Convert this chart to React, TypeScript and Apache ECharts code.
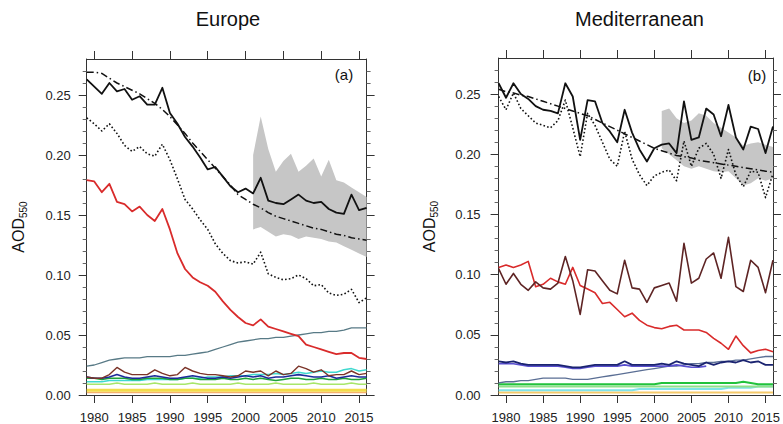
import React, { useEffect, useRef } from "react";
import * as echarts from "echarts";

const FONT = '"Liberation Sans", Arial, Helvetica, sans-serif';

const years = [1979, 1980, 1981, 1982, 1983, 1984, 1985, 1986, 1987, 1988, 1989, 1990, 1991, 1992, 1993, 1994, 1995, 1996, 1997, 1998, 1999, 2000, 2001, 2002, 2003, 2004, 2005, 2006, 2007, 2008, 2009, 2010, 2011, 2012, 2013, 2014, 2015, 2016];
const bandYears = [2001, 2002, 2003, 2004, 2005, 2006, 2007, 2008, 2009, 2010, 2011, 2012, 2013, 2014, 2015, 2016];
const blueYears = [1979, 1980, 1981, 1982, 1983, 1984, 1985, 1986, 1987, 1988, 1989, 1990, 1991, 1992, 1993, 1994, 1995, 1996, 1997, 1998, 1999, 2000, 2001, 2002, 2003, 2004, 2005, 2006, 2007];

const xTicks = [1980, 1985, 1990, 1995, 2000, 2005, 2010, 2015];
const yTicks = [0, 0.05, 0.1, 0.15, 0.2, 0.25];
const yMinorTicks = [0.01, 0.02, 0.03, 0.04, 0.06, 0.07, 0.08, 0.09, 0.11, 0.12, 0.13, 0.14, 0.16, 0.17, 0.18, 0.19, 0.21, 0.22, 0.23, 0.24, 0.26, 0.27];

// ---------- Europe ----------
const eurTotal = [0.263, 0.257, 0.251, 0.260, 0.253, 0.255, 0.246, 0.249, 0.242, 0.242, 0.256, 0.235, 0.226, 0.215, 0.207, 0.198, 0.188, 0.190, 0.182, 0.174, 0.169, 0.172, 0.168, 0.181, 0.162, 0.160, 0.159, 0.163, 0.167, 0.162, 0.160, 0.161, 0.155, 0.152, 0.151, 0.167, 0.154, 0.156];
const eurSmooth = [0.269, 0.269, 0.268, 0.264, 0.260, 0.257, 0.254, 0.251, 0.247, 0.243, 0.238, 0.232, 0.225, 0.218, 0.210, 0.203, 0.196, 0.189, 0.182, 0.175, 0.167, 0.163, 0.159, 0.156, 0.152, 0.149, 0.147, 0.145, 0.143, 0.141, 0.139, 0.138, 0.136, 0.134, 0.133, 0.131, 0.130, 0.129];
const eurDotted = [0.231, 0.226, 0.220, 0.226, 0.218, 0.208, 0.203, 0.207, 0.201, 0.199, 0.209, 0.196, 0.180, 0.163, 0.155, 0.146, 0.138, 0.126, 0.118, 0.112, 0.110, 0.111, 0.109, 0.119, 0.101, 0.098, 0.096, 0.097, 0.100, 0.097, 0.091, 0.092, 0.085, 0.083, 0.084, 0.088, 0.077, 0.081];
const eurRed = [0.179, 0.178, 0.169, 0.176, 0.161, 0.159, 0.153, 0.157, 0.150, 0.145, 0.155, 0.138, 0.118, 0.105, 0.098, 0.094, 0.091, 0.086, 0.078, 0.071, 0.065, 0.060, 0.058, 0.063, 0.057, 0.055, 0.053, 0.051, 0.049, 0.042, 0.040, 0.038, 0.036, 0.034, 0.035, 0.035, 0.031, 0.030];
const eurGrayBlue = [0.024, 0.025, 0.027, 0.029, 0.030, 0.031, 0.031, 0.031, 0.032, 0.032, 0.032, 0.032, 0.033, 0.033, 0.034, 0.035, 0.036, 0.038, 0.040, 0.042, 0.044, 0.045, 0.046, 0.047, 0.047, 0.048, 0.048, 0.049, 0.050, 0.051, 0.052, 0.052, 0.053, 0.053, 0.054, 0.056, 0.056, 0.056];
const eurBrown = [0.015, 0.014, 0.014, 0.017, 0.023, 0.019, 0.017, 0.017, 0.017, 0.021, 0.018, 0.016, 0.017, 0.023, 0.020, 0.018, 0.017, 0.017, 0.016, 0.015, 0.016, 0.020, 0.019, 0.020, 0.016, 0.020, 0.017, 0.018, 0.024, 0.022, 0.019, 0.021, 0.016, 0.017, 0.017, 0.020, 0.017, 0.018];
const eurNavy = [0.015, 0.014, 0.014, 0.015, 0.017, 0.015, 0.014, 0.014, 0.015, 0.016, 0.015, 0.014, 0.014, 0.015, 0.016, 0.015, 0.014, 0.014, 0.015, 0.014, 0.015, 0.016, 0.015, 0.016, 0.014, 0.015, 0.015, 0.016, 0.017, 0.016, 0.015, 0.015, 0.016, 0.014, 0.015, 0.016, 0.015, 0.015];
const eurGreen = [0.014, 0.014, 0.013, 0.014, 0.014, 0.014, 0.013, 0.013, 0.014, 0.014, 0.014, 0.013, 0.013, 0.014, 0.014, 0.013, 0.013, 0.013, 0.014, 0.013, 0.013, 0.014, 0.013, 0.014, 0.013, 0.012, 0.013, 0.014, 0.014, 0.013, 0.013, 0.014, 0.013, 0.013, 0.014, 0.013, 0.013, 0.014];
const eurCyan = [0.011, 0.011, 0.011, 0.012, 0.012, 0.012, 0.012, 0.012, 0.013, 0.013, 0.013, 0.013, 0.013, 0.014, 0.014, 0.014, 0.015, 0.015, 0.015, 0.016, 0.016, 0.016, 0.017, 0.017, 0.017, 0.018, 0.017, 0.018, 0.019, 0.018, 0.019, 0.020, 0.019, 0.019, 0.021, 0.022, 0.020, 0.021];
const eurLime = [0.009, 0.009, 0.009, 0.009, 0.010, 0.009, 0.009, 0.009, 0.009, 0.010, 0.009, 0.009, 0.009, 0.009, 0.010, 0.009, 0.009, 0.009, 0.009, 0.009, 0.010, 0.009, 0.009, 0.009, 0.009, 0.010, 0.009, 0.009, 0.009, 0.009, 0.010, 0.009, 0.009, 0.009, 0.009, 0.010, 0.009, 0.009];
const eurYellow = [0.004, 0.004, 0.004, 0.004, 0.004, 0.004, 0.004, 0.004, 0.004, 0.004, 0.004, 0.004, 0.004, 0.004, 0.004, 0.004, 0.004, 0.004, 0.004, 0.004, 0.004, 0.004, 0.004, 0.004, 0.004, 0.004, 0.004, 0.004, 0.004, 0.004, 0.004, 0.004, 0.004, 0.004, 0.004, 0.004, 0.004, 0.004];
const eurOrange = [0.002, 0.002, 0.002, 0.002, 0.002, 0.002, 0.002, 0.002, 0.002, 0.002, 0.002, 0.002, 0.002, 0.002, 0.002, 0.002, 0.002, 0.002, 0.002, 0.002, 0.002, 0.002, 0.002, 0.002, 0.002, 0.002, 0.002, 0.002, 0.002, 0.002, 0.002, 0.002, 0.002, 0.002, 0.002, 0.002, 0.002, 0.002];
const eurBandHigh = [0.200, 0.232, 0.205, 0.186, 0.195, 0.201, 0.186, 0.191, 0.197, 0.182, 0.196, 0.179, 0.177, 0.173, 0.169, 0.165];
const eurBandLow = [0.138, 0.140, 0.136, 0.132, 0.134, 0.133, 0.130, 0.132, 0.131, 0.130, 0.128, 0.127, 0.124, 0.121, 0.118, 0.115];

// ---------- Mediterranean ----------
const medTotal = [0.259, 0.247, 0.259, 0.250, 0.246, 0.240, 0.237, 0.236, 0.234, 0.259, 0.248, 0.212, 0.245, 0.244, 0.226, 0.219, 0.210, 0.237, 0.218, 0.204, 0.194, 0.205, 0.208, 0.209, 0.201, 0.244, 0.212, 0.214, 0.238, 0.233, 0.215, 0.241, 0.214, 0.204, 0.223, 0.221, 0.201, 0.223];
const medSmooth = [0.254, 0.252, 0.251, 0.249, 0.248, 0.246, 0.244, 0.242, 0.240, 0.238, 0.236, 0.234, 0.232, 0.229, 0.226, 0.223, 0.220, 0.217, 0.214, 0.211, 0.208, 0.205, 0.203, 0.201, 0.199, 0.198, 0.197, 0.195, 0.194, 0.193, 0.192, 0.191, 0.190, 0.189, 0.188, 0.187, 0.186, 0.185];
const medDotted = [0.248, 0.237, 0.251, 0.238, 0.232, 0.226, 0.224, 0.222, 0.228, 0.245, 0.222, 0.198, 0.234, 0.224, 0.210, 0.196, 0.190, 0.219, 0.196, 0.183, 0.174, 0.182, 0.185, 0.187, 0.178, 0.211, 0.190, 0.205, 0.209, 0.200, 0.180, 0.204, 0.183, 0.173, 0.186, 0.185, 0.164, 0.184];
const medRed = [0.106, 0.108, 0.106, 0.108, 0.111, 0.090, 0.092, 0.097, 0.094, 0.092, 0.106, 0.091, 0.088, 0.085, 0.076, 0.077, 0.071, 0.065, 0.068, 0.062, 0.058, 0.056, 0.055, 0.057, 0.058, 0.054, 0.054, 0.054, 0.052, 0.047, 0.043, 0.038, 0.049, 0.041, 0.035, 0.037, 0.038, 0.036];
const medBrown = [0.105, 0.092, 0.101, 0.092, 0.087, 0.094, 0.089, 0.088, 0.093, 0.115, 0.095, 0.067, 0.104, 0.103, 0.095, 0.087, 0.084, 0.112, 0.089, 0.088, 0.077, 0.089, 0.091, 0.093, 0.078, 0.126, 0.093, 0.097, 0.113, 0.118, 0.097, 0.131, 0.090, 0.086, 0.112, 0.106, 0.085, 0.112];
const medNavy = [0.028, 0.027, 0.028, 0.026, 0.025, 0.025, 0.025, 0.025, 0.025, 0.024, 0.023, 0.023, 0.024, 0.025, 0.025, 0.025, 0.025, 0.028, 0.025, 0.025, 0.025, 0.025, 0.026, 0.025, 0.028, 0.026, 0.025, 0.024, 0.027, 0.025, 0.027, 0.028, 0.027, 0.029, 0.027, 0.028, 0.025, 0.025];
const medBlue = [0.026, 0.026, 0.026, 0.025, 0.024, 0.024, 0.024, 0.024, 0.024, 0.023, 0.022, 0.022, 0.023, 0.024, 0.024, 0.024, 0.024, 0.025, 0.024, 0.024, 0.024, 0.024, 0.024, 0.024, 0.025, 0.024, 0.023, 0.023, 0.024];
const medGrayBlue = [0.010, 0.011, 0.011, 0.012, 0.012, 0.013, 0.014, 0.014, 0.014, 0.014, 0.013, 0.013, 0.013, 0.014, 0.015, 0.016, 0.017, 0.018, 0.019, 0.020, 0.021, 0.022, 0.023, 0.024, 0.024, 0.025, 0.026, 0.026, 0.027, 0.027, 0.028, 0.028, 0.029, 0.029, 0.030, 0.031, 0.032, 0.032];
const medGreen = [0.009, 0.009, 0.009, 0.009, 0.009, 0.009, 0.009, 0.009, 0.009, 0.009, 0.009, 0.009, 0.009, 0.009, 0.009, 0.009, 0.009, 0.009, 0.009, 0.009, 0.009, 0.009, 0.010, 0.010, 0.010, 0.010, 0.010, 0.010, 0.010, 0.010, 0.010, 0.010, 0.010, 0.011, 0.010, 0.009, 0.009, 0.009];
const medLime = [0.007, 0.007, 0.007, 0.007, 0.007, 0.007, 0.007, 0.007, 0.007, 0.007, 0.007, 0.007, 0.007, 0.007, 0.007, 0.007, 0.007, 0.007, 0.007, 0.007, 0.007, 0.007, 0.007, 0.007, 0.007, 0.007, 0.007, 0.007, 0.007, 0.007, 0.007, 0.007, 0.007, 0.007, 0.007, 0.007, 0.007, 0.007];
const medCyan = [0.004, 0.004, 0.004, 0.004, 0.004, 0.004, 0.004, 0.004, 0.004, 0.004, 0.004, 0.004, 0.004, 0.004, 0.004, 0.004, 0.004, 0.004, 0.004, 0.005, 0.005, 0.005, 0.005, 0.005, 0.005, 0.005, 0.005, 0.005, 0.005, 0.005, 0.005, 0.006, 0.006, 0.006, 0.006, 0.007, 0.007, 0.007];
const medYellow = [0.002, 0.002, 0.002, 0.002, 0.002, 0.002, 0.002, 0.002, 0.002, 0.002, 0.002, 0.002, 0.002, 0.002, 0.002, 0.002, 0.002, 0.002, 0.002, 0.002, 0.002, 0.002, 0.002, 0.002, 0.002, 0.002, 0.002, 0.002, 0.002, 0.002, 0.002, 0.002, 0.002, 0.002, 0.002, 0.002, 0.002, 0.002];
const medBandHigh = [0.236, 0.238, 0.230, 0.226, 0.228, 0.234, 0.232, 0.226, 0.222, 0.218, 0.214, 0.207, 0.209, 0.210, 0.208, 0.206];
const medBandLow = [0.205, 0.200, 0.195, 0.190, 0.188, 0.190, 0.188, 0.186, 0.185, 0.186, 0.180, 0.174, 0.176, 0.180, 0.178, 0.180];

const AXIS_COLOR = "#333";
const LABEL_COLOR = "#222";

function pairs(xs: number[], vs: number[]) {
  return xs.map((x, i) => [x, vs[i]]);
}

function lineSeries(p: number, xs: number[], vs: number[], color: string, width: number, type: any = "solid", opacity = 1) {
  return {
    type: "line",
    xAxisIndex: p * 2,
    yAxisIndex: p * 4,
    data: pairs(xs, vs),
    symbol: "none",
    showSymbol: false,
    silent: true,
    z: 3,
    lineStyle: { color, width, type, opacity, cap: "butt", join: "round" },
  };
}

function bandSeries(p: number, low: number[], high: number[]) {
  return {
    type: "custom",
    coordinateSystem: "cartesian2d",
    xAxisIndex: p * 2,
    yAxisIndex: p * 4,
    silent: true,
    z: 1,
    data: bandYears.map((y, i) => [y, low[i], high[i]]),
    encode: { x: 0, y: [1, 2] },
    renderItem: (params: any, api: any) => {
      if (params.dataIndex !== 0) return null;
      const upper = bandYears.map((y, i) => api.coord([y, high[i]]));
      const lower = bandYears.map((y, i) => api.coord([y, low[i]])).reverse();
      return {
        type: "polygon",
        shape: { points: upper.concat(lower) },
        style: { fill: "#c6c6c6", stroke: "none" },
      };
    },
  };
}

function xAxes(p: number) {
  const common = {
    gridIndex: p,
    type: "value",
    min: 1979,
    max: 2016,
    splitLine: { show: false },
    axisLine: { show: true, onZero: false, lineStyle: { color: AXIS_COLOR, width: 1 } },
  };
  return [
    {
      ...common,
      position: "bottom",
      axisTick: { show: true, inside: false, length: 8, customValues: xTicks, lineStyle: { color: AXIS_COLOR, width: 1 } },
      axisLabel: { show: true, customValues: xTicks, fontSize: 13, color: LABEL_COLOR, fontFamily: FONT, margin: 16, formatter: (v: number) => String(v) },
    },
    {
      ...common,
      position: "top",
      axisTick: { show: true, inside: false, length: 8, customValues: xTicks, lineStyle: { color: AXIS_COLOR, width: 1 } },
      axisLabel: { show: false },
    },
  ];
}

function yAxes(p: number, labelMargin: number, nameGap: number) {
  const common = {
    gridIndex: p,
    type: "value",
    min: 0,
    max: 0.28,
    splitLine: { show: false },
  };
  const line = { show: true, onZero: false, lineStyle: { color: AXIS_COLOR, width: 1 } };
  return [
    {
      ...common,
      position: "left",
      axisLine: line,
      axisTick: { show: true, inside: false, length: 8, customValues: yTicks, lineStyle: { color: AXIS_COLOR, width: 1 } },
      axisLabel: { show: true, customValues: yTicks, fontSize: 13, color: LABEL_COLOR, fontFamily: FONT, margin: labelMargin, formatter: (v: number) => v.toFixed(2) },
      name: "{a|AOD}{s|550}",
      nameLocation: "middle",
      nameRotate: 90,
      nameGap,
      nameTextStyle: {
        color: "#111",
        rich: {
          a: { fontSize: 16, fontFamily: FONT, color: "#111", lineHeight: 20 },
          s: { fontSize: 10, fontFamily: FONT, color: "#111", lineHeight: 8, verticalAlign: "bottom" },
        },
      },
    },
    {
      ...common,
      position: "right",
      axisLine: line,
      axisTick: { show: true, inside: false, length: 8, customValues: yTicks, lineStyle: { color: AXIS_COLOR, width: 1 } },
      axisLabel: { show: false },
    },
    {
      ...common,
      position: "left",
      axisLine: { show: false, onZero: false },
      axisTick: { show: true, inside: false, length: 4, customValues: yMinorTicks, lineStyle: { color: "#666", width: 1 } },
      axisLabel: { show: false },
    },
    {
      ...common,
      position: "right",
      axisLine: { show: false, onZero: false },
      axisTick: { show: true, inside: false, length: 4, customValues: yMinorTicks, lineStyle: { color: "#666", width: 1 } },
      axisLabel: { show: false },
    },
  ];
}

export default function App() {
  const ref = useRef<HTMLDivElement>(null);

  useEffect(() => {
    if (!ref.current) return;
    const chart = echarts.init(ref.current, undefined, { renderer: "svg" });

    const dashDot = [7, 3, 1.5, 3];
    const dotted = [1.6, 2.2];

    const option: any = {
      animation: false,
      backgroundColor: "#ffffff",
      grid: [
        { left: 86.7, top: 59, width: 279.9, height: 336.7, containLabel: false },
        { left: 498.6, top: 58, width: 280.4, height: 337.7, containLabel: false },
      ],
      xAxis: [...xAxes(0), ...xAxes(1)],
      yAxis: [...yAxes(0, 16, 58), ...yAxes(1, 18, 59)],
      graphic: [
        { type: "text", x: 228, y: 19, style: { text: "Europe", font: `20px ${FONT}`, fill: "#111", textAlign: "center", textVerticalAlign: "middle" } },
        { type: "text", x: 639.5, y: 19, style: { text: "Mediterranean", font: `20px ${FONT}`, fill: "#111", textAlign: "center", textVerticalAlign: "middle" } },
        { type: "text", x: 344, y: 74, style: { text: "(a)", font: `15px ${FONT}`, fill: "#111", textAlign: "center", textVerticalAlign: "middle" } },
        { type: "text", x: 757, y: 75, style: { text: "(b)", font: `15px ${FONT}`, fill: "#111", textAlign: "center", textVerticalAlign: "middle" } },
      ],
      series: [
        bandSeries(0, eurBandLow, eurBandHigh),
        lineSeries(0, years, eurOrange, "#f6b26b", 1.5),
        lineSeries(0, years, eurYellow, "#f2dc4a", 3),
        lineSeries(0, years, eurLime, "#a8e66a", 1.5),
        lineSeries(0, years, eurCyan, "#3fd9cf", 1.5),
        lineSeries(0, years, eurGreen, "#1fa33a", 1.5),
        lineSeries(0, years, eurNavy, "#1c2a9a", 1.6),
        lineSeries(0, years, eurBrown, "#7b3328", 1.4),
        lineSeries(0, years, eurGrayBlue, "#587a86", 1.3),
        lineSeries(0, years, eurRed, "#d92b2b", 1.8),
        lineSeries(0, years, eurDotted, "#111", 1.6, dotted),
        lineSeries(0, years, eurSmooth, "#111", 1.5, dashDot),
        lineSeries(0, years, eurTotal, "#111", 1.8),

        bandSeries(1, medBandLow, medBandHigh),
        lineSeries(1, years, medYellow, "#f5c96a", 2),
        lineSeries(1, years, medCyan, "#7fe3e8", 2),
        lineSeries(1, years, medLime, "#8fe08a", 2),
        lineSeries(1, years, medGreen, "#22c23c", 2),
        lineSeries(1, years, medGrayBlue, "#5a6e94", 1.3),
        lineSeries(1, blueYears, medBlue, "#5a4fd0", 1.6),
        lineSeries(1, years, medNavy, "#1a2370", 1.8),
        lineSeries(1, years, medRed, "#d92b2b", 1.6),
        lineSeries(1, years, medBrown, "#5e2424", 1.6),
        lineSeries(1, years, medDotted, "#111", 1.6, dotted),
        lineSeries(1, years, medSmooth, "#111", 1.5, dashDot),
        lineSeries(1, years, medTotal, "#111", 1.8),
      ],
    };

    chart.setOption(option);
    return () => chart.dispose();
  }, []);

  return (
    <div
      ref={ref}
      style={{ position: "fixed", left: 0, top: 0, width: 783, height: 424, background: "#fff" }}
    />
  );
}
